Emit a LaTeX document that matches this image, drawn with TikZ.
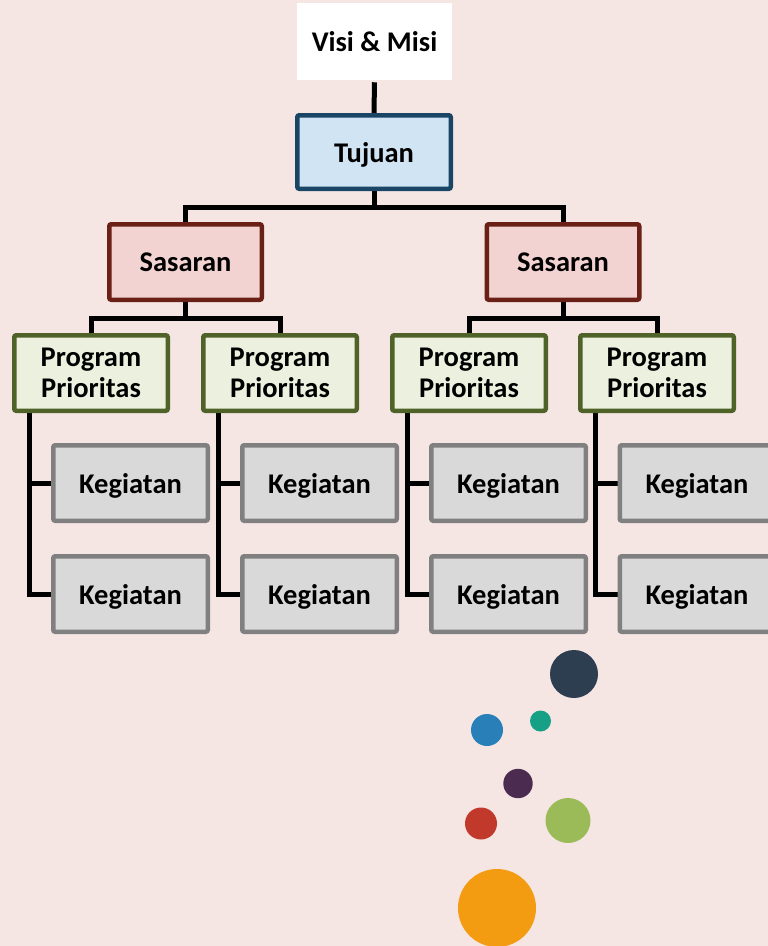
\documentclass[tikz,border=0pt]{standalone}
\usepackage{fontspec}
\setmainfont{Carlito}
\usetikzlibrary{backgrounds}
\definecolor{pagebg}{HTML}{F5E6E4}
\definecolor{tujfill}{HTML}{D0E4F3}
\definecolor{tujline}{HTML}{1B4565}
\definecolor{sasfill}{HTML}{F2D3D1}
\definecolor{sasline}{HTML}{6A1F17}
\definecolor{progfill}{HTML}{EBF1DE}
\definecolor{progline}{HTML}{4F6228}
\definecolor{kegfill}{HTML}{D9D9D9}
\definecolor{kegline}{HTML}{808080}
\definecolor{cnavy}{HTML}{2C3E50}
\definecolor{cteal}{HTML}{16A085}
\definecolor{cblue}{HTML}{2980B9}
\definecolor{cpurple}{HTML}{4B2C50}
\definecolor{cred}{HTML}{C0392B}
\definecolor{cgreen}{HTML}{9BBB59}
\definecolor{corange}{HTML}{F39C12}
\tikzset{
  box/.style={rectangle, rounded corners=2pt, line width=4.5pt, inner sep=0pt,
    minimum width=153.5pt, minimum height=75.5pt, align=center, text depth=0pt,
    font=\bfseries\fontsize{28.5}{31.5}\selectfont, text=black},
  visibox/.style={box, draw=none, fill=white, minimum width=155pt, minimum height=77pt, rounded corners=0pt},
  tujbox/.style={box, draw=tujline, fill=tujfill, minimum height=73.5pt},
  sasbox/.style={box, draw=sasline, fill=sasfill, minimum width=152.5pt},
  progbox/.style={box, draw=progline, fill=progfill},
  kegbox/.style={box, draw=kegline, fill=kegfill, minimum width=154.5pt},
  link/.style={draw=black, line width=5pt},
}
\begin{document}
\begin{tikzpicture}[x=1pt, y=-1pt]
\useasboundingbox (0,0) rectangle (768,946);
\clip (0,0) rectangle (768,946);
\begin{scope}[on background layer]
  \fill[pagebg] (0,0) rectangle (768,946);
\end{scope}

% hierarchy boxes
\node[visibox] (visi) at (374.5,41.5) {Visi \& Misi};
\node[tujbox] (tuj) at (374,152) {Tujuan};
\node[sasbox] (sasL) at (185.5,262) {Sasaran};
\node[sasbox] (sasR) at (563,262) {Sasaran};
\node[progbox] (pA) at (91,373) {Program\\Prioritas};
\node[progbox] (pB) at (280,373) {Program\\Prioritas};
\node[progbox] (pC) at (469,373) {Program\\Prioritas};
\node[progbox] (pD) at (657,373) {Program\\Prioritas};
\node[kegbox] (kA1) at (130.5,483) {Kegiatan};
\node[kegbox] (kA2) at (130.5,594) {Kegiatan};
\node[kegbox] (kB1) at (319.5,483) {Kegiatan};
\node[kegbox] (kB2) at (319.5,594) {Kegiatan};
\node[kegbox] (kC1) at (508.5,483) {Kegiatan};
\node[kegbox] (kC2) at (508.5,594) {Kegiatan};
\node[kegbox] (kD1) at (697,483) {Kegiatan};
\node[kegbox] (kD2) at (697,594) {Kegiatan};

% connectors, kept behind the boxes
\coordinate (busT) at (374,207);
\coordinate (busL) at (185.5,318);
\coordinate (busR) at (563,318);
\begin{scope}[on background layer]
  \draw[link] (visi) -- (tuj);
  \draw[link] (tuj.south) -- (busT) -| (sasL.north);
  \draw[link] (busT) -| (sasR.north);
  \draw[link] (sasL.south) -- (busL) -| (pA.north);
  \draw[link] (busL) -| (pB.north);
  \draw[link] (sasR.south) -- (busR) -| (pC.north);
  \draw[link] (busR) -| (pD.north);
  \foreach \p/\a/\b in {pA/kA1/kA2, pB/kB1/kB2, pC/kC1/kC2, pD/kD1/kD2}{
    \draw[link] ([xshift=-62pt]\p.south) coordinate (sp) |- (\b.west);
    \draw[link] (\a.west) -- (\a.west -| sp);
  }
\end{scope}

% scattered dots
\fill[cnavy]   (574,674) circle (24);
\fill[cteal]   (540.5,721) circle (10.5);
\fill[cblue]   (487,730) circle (16);
\fill[cpurple] (518,783.5) circle (14.7);
\fill[cred]    (481,823.5) circle (16);
\fill[cgreen]  (568,820.5) circle (22.5);
\fill[corange] (497,908) circle (39);
\end{tikzpicture}
\end{document}
